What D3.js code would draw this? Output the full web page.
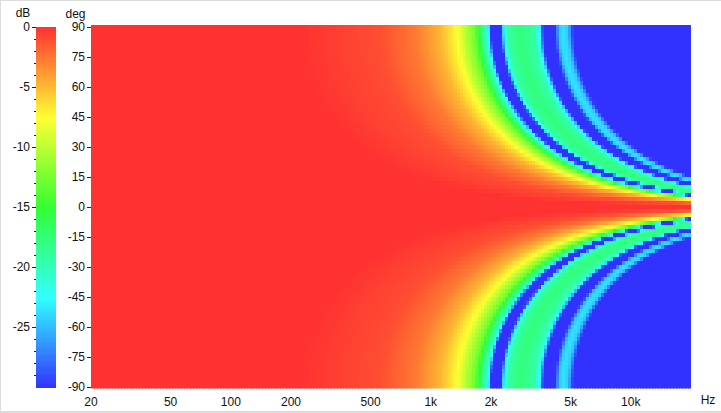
<!DOCTYPE html>
<html><head><meta charset="utf-8">
<script src="https://cdn.jsdelivr.net/npm/d3@7/dist/d3.min.js"></script>
<style>
html,body{margin:0;padding:0;background:#fff;overflow:hidden}
svg{display:block}
text{font-family:"Liberation Sans",Arial,sans-serif;font-size:12px;fill:#111}
</style></head><body>
<div id="chart"></div>
<script>
// Level reached at each successive crossing along a row (dB)
const levelDb = [0,-1,-2.6,-4.8,-7.5,-12.9,-22,-30,-30,-22,-19,-17.6,-19,-22,-30,-30,-24.5,-23.5,-24.5,-30];
// Frequency (Hz) of those crossings, read per off-axis angle (response is mirrored for negative angles)
const crossingsHz = {
0:[30000],
2:[6360,15790,23900],
4:[3183,7901,11960,15946,19388,23862],
6:[2124,5271,7979,10639,12934,15920,18483,19134,21468],
8:[1595,3959,5992,7990,9714,11956,13881,14370,16123,16691,17675,20068],
10:[1278,3173,4803,6404,7786,9583,11126,11518,12923,13378,14167,16085,18676,20013],
12:[1068,2650,4012,5349,6503,8004,9293,9620,10794,11174,11833,13434,15599,16715,17508,20096],
14:[918,2278,3448,4597,5589,6879,7987,8268,9277,9603,10170,11546,13407,14366,15048,17272,18086,18938,20055,21249],
16:[805,1999,3026,4034,4905,6037,7009,7256,8141,8428,8925,10133,11766,12607,13206,15158,15872,16620,17601,18648],
18:[718,1783,2699,3598,4375,5385,6252,6472,7262,7517,7961,9038,10494,11245,11779,13520,14157,14824,15699,16633],
20:[649,1611,2439,3252,3953,4866,5649,5848,6561,6792,7193,8167,9483,10161,10643,12216,12792,13395,14185,15029],
22:[593,1471,2226,2968,3608,4441,5156,5338,5989,6200,6566,7455,8656,9275,9715,11151,11677,12227,12948,13719],
24:[546,1355,2051,2734,3325,4092,4751,4918,5518,5712,6049,6868,7975,8545,8951,10274,10758,11265,11930,12639],
26:[506,1257,1902,2536,3084,3796,4407,4562,5119,5299,5611,6371,7397,7926,8303,9530,9979,10449,11065,11724],
28:[473,1174,1776,2369,2880,3544,4115,4260,4780,4948,5240,5949,6908,7402,7753,8899,9319,9758,10334,10948],
30:[444,1102,1668,2224,2704,3328,3864,4000,4488,4646,4920,5586,6486,6950,7280,8356,8750,9162,9703,10280],
32:[419,1040,1574,2098,2551,3140,3646,3774,4234,4384,4642,5270,6120,6557,6869,7884,8255,8644,9154,9699],
34:[397,985,1491,1988,2417,2975,3454,3576,4012,4154,4398,4994,5798,6213,6508,7470,7822,8191,8674,9190],
36:[378,937,1419,1892,2300,2831,3286,3402,3817,3951,4184,4751,5516,5911,6192,7107,7441,7792,8252,8743],
38:[361,895,1354,1806,2196,2702,3138,3248,3644,3773,3995,4536,5267,5643,5911,6785,7104,7439,7878,8347],
40:[345,857,1298,1730,2104,2589,3006,3112,3492,3615,3828,4346,5046,5407,5664,6501,6807,7128,7549,7998],
42:[332,823,1246,1661,2020,2486,2886,2988,3353,3471,3675,4173,4845,5192,5438,6242,6536,6844,7248,7679],
44:[320,793,1201,1601,1947,2396,2782,2880,3231,3345,3542,4022,4670,5004,5242,6016,6300,6597,6986,7402],
46:[309,766,1159,1546,1879,2313,2685,2780,3119,3229,3419,3882,4508,4830,5060,5807,6081,6368,6744,7145],
48:[299,742,1123,1497,1820,2240,2600,2692,3020,3127,3311,3759,4365,4677,4899,5624,5889,6166,6530,6918],
50:[290,719,1088,1451,1764,2172,2521,2610,2928,3032,3210,3645,4232,4535,4750,5452,5709,5978,6331,6708],
52:[282,699,1058,1411,1716,2112,2452,2538,2848,2948,3122,3544,4115,4410,4619,5302,5551,5813,6156,6523],
54:[274,681,1031,1374,1671,2057,2388,2472,2774,2871,3041,3452,4008,4295,4499,5164,5407,5662,5996,6353],
56:[268,664,1006,1341,1630,2007,2330,2412,2706,2801,2967,3368,3911,4191,4390,5039,5276,5525,5851,6199],
58:[262,650,983,1311,1594,1962,2278,2358,2646,2739,2900,3293,3823,4097,4292,4926,5158,5401,5720,6060],
60:[256,636,963,1284,1562,1922,2231,2310,2592,2683,2841,3226,3746,4014,4204,4826,5053,5291,5603,5937],
62:[252,624,945,1260,1532,1885,2189,2266,2542,2632,2787,3164,3674,3937,4124,4734,4956,5190,5496,5824],
64:[247,613,928,1238,1505,1852,2150,2226,2498,2585,2738,3109,3609,3868,4051,4650,4870,5099,5400,5721],
66:[243,603,913,1218,1480,1822,2116,2190,2457,2544,2694,3058,3551,3805,3986,4575,4790,5016,5312,5628],
68:[240,595,900,1200,1459,1795,2085,2158,2421,2506,2654,3014,3499,3750,3928,4508,4721,4943,5235,5546],
70:[236,586,887,1183,1439,1770,2056,2128,2388,2472,2617,2972,3451,3697,3873,4445,4655,4874,5162,5469],
72:[233,579,877,1169,1421,1749,2031,2102,2358,2441,2585,2935,3408,3652,3826,4391,4598,4815,5099,5402],
74:[231,573,867,1156,1406,1731,2009,2080,2334,2416,2558,2905,3373,3614,3786,4345,4550,4764,5045,5346],
76:[229,568,860,1146,1394,1716,1992,2062,2314,2395,2536,2880,3344,3583,3753,4308,4510,4723,5002,5299],
78:[227,563,852,1136,1382,1701,1975,2044,2293,2374,2514,2854,3314,3551,3720,4270,4471,4682,4958,5253],
80:[225,559,847,1129,1372,1689,1961,2030,2278,2358,2497,2835,3292,3527,3695,4241,4441,4650,4924,5217],
82:[224,557,842,1123,1366,1681,1951,2020,2266,2346,2485,2821,3275,3510,3676,4220,4419,4627,4900,5191],
84:[223,554,839,1119,1360,1674,1944,2012,2257,2337,2475,2810,3262,3496,3662,4203,4401,4608,4880,5171],
86:[222,552,836,1114,1355,1667,1936,2004,2249,2328,2465,2799,3249,3482,3647,4186,4383,4590,4861,5150],
88:[222,552,835,1113,1354,1666,1934,2003,2247,2326,2463,2797,3247,3480,3645,4184,4381,4587,4858,5147],
90:[222,551,834,1112,1352,1664,1932,2000,2244,2323,2460,2793,3243,3475,3640,4178,4375,4581,4851,5140]
};
// Axis labels
const freqTicks = [20,50,100,200,500,1000,2000,5000,10000];
const freqLabels = ["20","50","100","200","500","1k","2k","5k","10k"];
const angleTicks = [90,75,60,45,30,15,0,-15,-30,-45,-60,-75,-90];
const dbMajorTicks = [0,-5,-10,-15,-20,-25];
const dbMinorTicks = d3.range(0,-30,-1);
const colorDb = [0,-7.5,-15,-22.5,-30];
const colorStops = ["rgb(255,50,50)","rgb(255,255,50)","rgb(50,255,50)","rgb(50,255,255)","rgb(50,50,255)"];

const W = 721, H = 413;
const x = d3.scaleLog().domain([20,20000]).range([91,691]);
const y = d3.scaleLinear().domain([90,-90]).range([27.5,387.5]);
const yDb = d3.scaleLinear().domain([0,-30]).range([27,387.5]);
const color = d3.scaleLinear().domain(colorDb).range(colorStops).clamp(true);

const svg = d3.select("#chart").append("svg").attr("width",W).attr("height",H);
// window edge
svg.append("rect").attr("width",W).attr("height",1).attr("fill","#dcdcdc");
svg.append("rect").attr("width",1).attr("height",H).attr("fill","#dcdcdc");
svg.append("rect").attr("y",411).attr("width",W).attr("height",2).attr("fill","#dcdcdc");

svg.append("defs").append("clipPath").attr("id","plot").append("rect")
  .attr("x",91).attr("y",25).attr("width",600).attr("height",363.5);

// heat map cells
const rowAngles = d3.range(90,-91,-2);
const rowH = Math.abs(y(0)-y(2));
const colCount = 300;
const colEdges = d3.ticks(0,1,colCount).map(t => x.invert(91+600*t));
const plot = svg.append("g").attr("clip-path","url(#plot)").attr("shape-rendering","crispEdges");
rowAngles.forEach(a => {
  const row = crossingsHz[Math.abs(a)];
  const resp = d3.scaleLog().domain([20,...row])
    .range([0,...levelDb.slice(0,row.length)]).clamp(true);
  plot.append("g").selectAll("rect").data(colEdges.slice(0,-1)).join("rect")
    .attr("x",d=>x(d))
    .attr("y",y(a)-rowH/2-0.5)
    .attr("width",(d,i)=>x(colEdges[i+1])-x(d)+0.5)
    .attr("height",rowH)
    .attr("fill",(d,i)=>color(resp(Math.sqrt(d*colEdges[i+1]))));
});

// colour bar
const barDb = d3.range(0,-30,-0.1);
svg.append("g").attr("shape-rendering","crispEdges").selectAll("rect").data(barDb).join("rect")
  .attr("x",36).attr("width",20)
  .attr("y",d=>yDb(d)).attr("height",1.6)
  .attr("fill",d=>color(d));

// axes
const plain = d => String(d);
const gDb = svg.append("g").attr("transform","translate(36,0)")
  .call(d3.axisLeft(yDb).tickValues(dbMajorTicks).tickSize(4).tickPadding(2).tickFormat(plain).offset(0));
const gDbMinor = svg.append("g").attr("transform","translate(36,0)")
  .call(d3.axisLeft(yDb).tickValues(dbMinorTicks).tickSize(2).tickFormat("").offset(0));
const gAng = svg.append("g").attr("transform","translate(91,0)")
  .call(d3.axisLeft(y).tickValues(angleTicks).tickSize(4).tickPadding(2).tickFormat(plain).offset(0));
const gFreq = svg.append("g").attr("transform","translate(0,388)")
  .call(d3.axisBottom(x).tickValues(freqTicks).tickSize(0).tickPadding(9).tickFormat((d,i)=>freqLabels[i]).offset(0));
[gDb,gDbMinor,gAng,gFreq].forEach(g=>{
  g.select(".domain").remove();
  g.selectAll("line").attr("stroke","#222").attr("shape-rendering","crispEdges");
  g.selectAll("text").attr("fill","#111").style("font-family",'"Liberation Sans",Arial,sans-serif').style("font-size","12px");
});

svg.append("text").attr("x",708).attr("y",404).attr("text-anchor","middle").text("Hz");
svg.append("text").attr("x",23).attr("y",17).attr("text-anchor","middle").text("dB");
svg.append("text").attr("x",75.5).attr("y",18).attr("text-anchor","middle").text("deg");
</script>
</body></html>
